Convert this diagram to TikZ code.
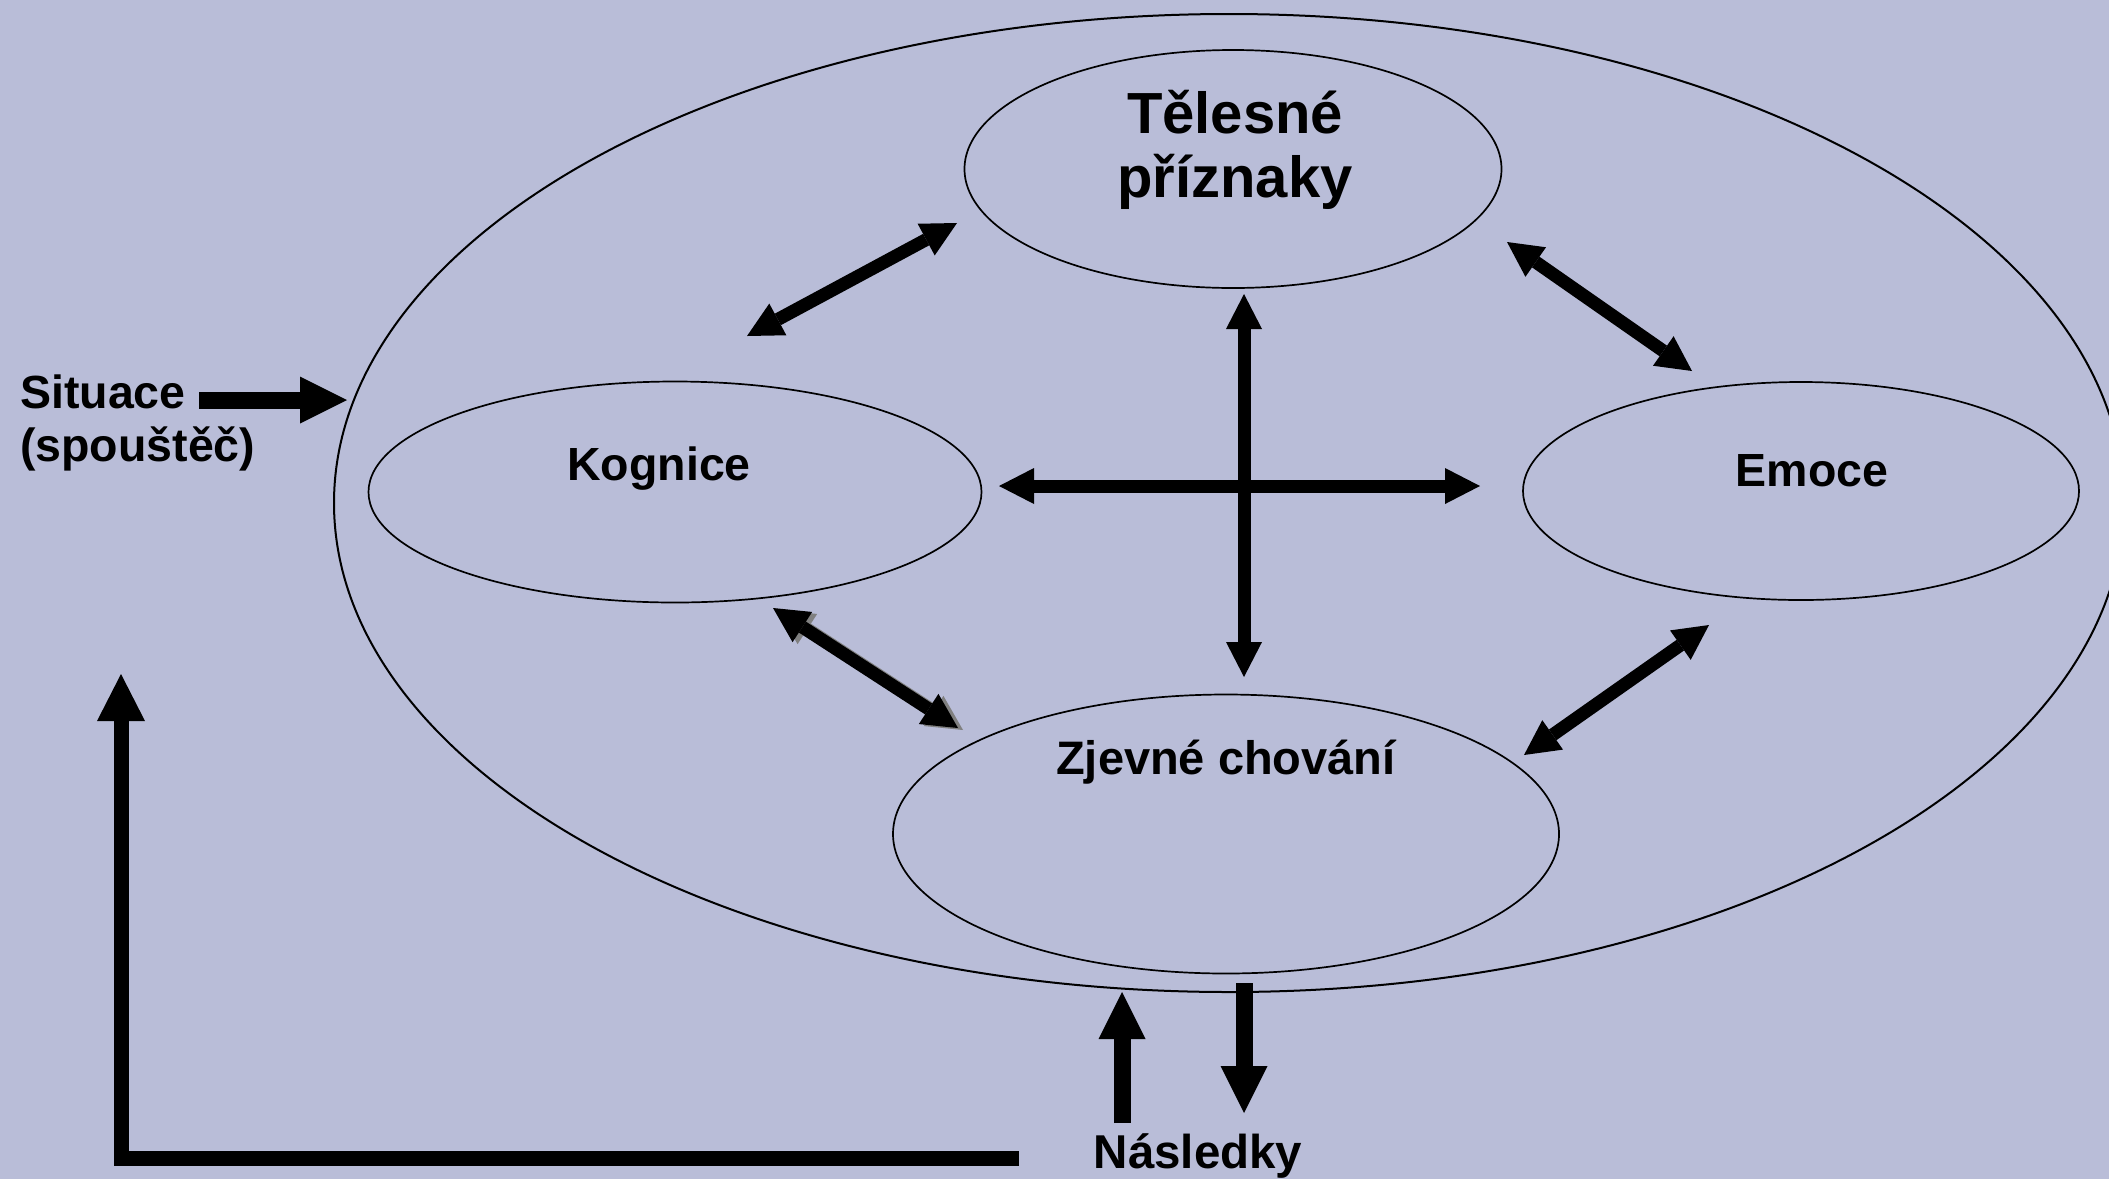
\documentclass[tikz,border=0pt]{standalone}
\usepackage{fontspec}
\setmainfont{Liberation Sans}
\usetikzlibrary{arrows.meta,shapes.geometric}
\definecolor{bg}{RGB}{185,189,216}
\definecolor{shadowgray}{RGB}{128,128,128}
\tikzset{
  oval/.style={draw=black, line width=1.7pt, ellipse, inner sep=0pt, outer sep=0pt},
  lbl/.style={font=\fontsize{46.5}{54}\selectfont\bfseries, inner sep=0pt, anchor=base},
  biglbl/.style={lbl, font=\fontsize{58}{64}\selectfont\bfseries},
  dbl/.style={line width=13pt, {Triangle[length=35pt,width=36pt,line width=0pt]}-{Triangle[length=35pt,width=36pt,line width=0pt]}},
  sgl/.style={line width=17pt, -{Triangle[length=47pt,width=47pt,line width=0pt]}},
  fb/.style={line width=15pt, line join=miter, -{Triangle[length=47pt,width=48pt,line width=0pt]}},
}
\begin{document}
\begin{tikzpicture}[x=1pt,y=-1pt]
\fill[bg] (0,0) rectangle (2109,1179);
\useasboundingbox (0,0) rectangle (2109,1179);
\clip (0,0) rectangle (2109,1179);

% ellipses
\node[oval, line width=2pt, minimum width=1790pt, minimum height=978pt] (big) at (1229,503) {};
\node[oval, minimum width=537pt, minimum height=238pt] (tel) at (1233,169) {};
\node[oval, minimum width=613pt, minimum height=221pt] (kog) at (675,492) {};
\node[oval, minimum width=556pt, minimum height=218pt] (emo) at (1801,491) {};
\node[oval, minimum width=666pt, minimum height=279pt] (zjv) at (1226,834) {};

% labels
\node[biglbl] (t1) at (1235,133) {Tělesné};
\node[biglbl] (t2) at (1235,197) {příznaky};
\node[lbl] (tk) at (659,480) {Kognice};
\node[lbl] (te) at (1812,486) {Emoce};
\node[lbl, font=\fontsize{47}{52}\selectfont\bfseries] (tz) at (1226,774) {Zjevné chování};
\node[lbl, anchor=base west] (ts1) at (20,408) {Situace};
\node[lbl, anchor=base west] (ts2) at (20,461) {(spouštěč)};
\node[lbl, font=\fontsize{47.5}{54}\selectfont\bfseries] (tn) at (1198,1168) {Následky};

% arrow end points
\coordinate (tk1) at (747,336);  \coordinate (tk2) at (957,223);
\coordinate (te1) at (1507,242); \coordinate (te2) at (1692,371);
\coordinate (v1) at (1244,294);  \coordinate (v2) at (1244,677);
\coordinate (h1) at (999,486);   \coordinate (h2) at (1480,486);
\coordinate (kz1) at (773,608);  \coordinate (kz2) at (958,728);
\coordinate (ez1) at (1709,625); \coordinate (ez2) at (1524,755);
\coordinate (s1) at (199,400);   \coordinate (s2) at (347,400);
\coordinate (u1) at (1122,1123); \coordinate (u2) at (1122,992);
\coordinate (d1) at (1244,983);  \coordinate (d2) at (1244,1113);
\coordinate (l1) at (1019,1158); \coordinate (l2) at (121,1158); \coordinate (l3) at (121,674);

% double arrows
\draw[dbl] (tk1) -- (tk2);
\draw[dbl] (te1) -- (te2);
\draw[dbl] (v1) -- (v2);
\draw[dbl] (h1) -- (h2);
\draw[dbl, shadowgray] ([shift={(5,2)}]kz1) -- ([shift={(5,2)}]kz2);
\draw[dbl] (kz1) -- (kz2);
\draw[dbl] (ez1) -- (ez2);

% single arrows
\draw[sgl] (s1) -- (s2);
\draw[sgl] (u1) -- (u2);
\draw[sgl] (d1) -- (d2);
\draw[fb] (l1) -- (l2) -- (l3);
\end{tikzpicture}
\end{document}
